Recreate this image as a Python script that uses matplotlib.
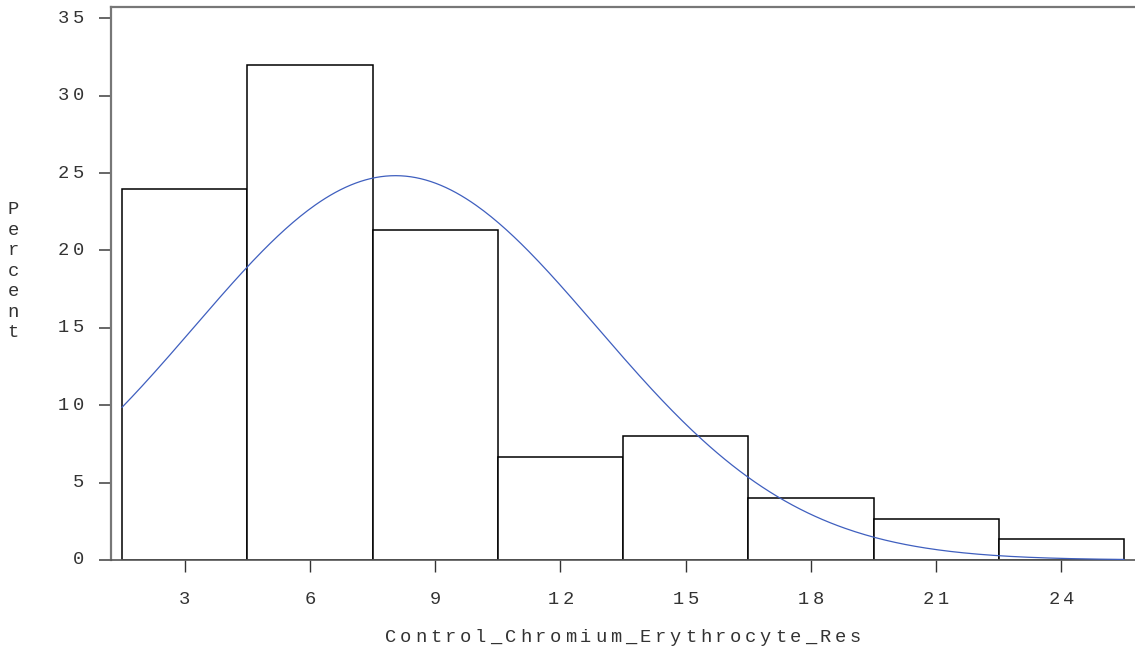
import numpy as np
import matplotlib
matplotlib.use("Agg")
import matplotlib.pyplot as plt
from matplotlib.transforms import offset_copy, blended_transform_factory

# histogram bins (midpoints) and percent of observations
midpoints = [3, 6, 9, 12, 15, 18, 21, 24]
percents = [24.0, 32.0, 21.33, 6.67, 8.0, 4.0, 2.67, 1.33]
bin_width = 3
# fitted normal curve parameters
mu = 8.05
sigma = 4.82

yticks = [0, 5, 10, 15, 20, 25, 30, 35]
xlabel = 'Control_Chromium_Erythrocyte_Res'
ylabel = 'Percent'

TXT = '#333333'
FONT = 'Liberation Mono'
FS = 13.5

fig = plt.figure(figsize=(11.35, 6.62), dpi=100)
ax = fig.add_axes([111 / 1135, 1 - 560 / 662, 1 - 111 / 1135, (560 - 6.5) / 662])


def spaced(s, x, y, trans, pitch, dx0=0, dy0=0, vertical=False):
    # draw text one char at a time to mimic the wide letter spacing
    n = len(s)
    for i, ch in enumerate(s):
        if vertical:
            dx, dy = dx0, dy0 - (i - (n - 1) / 2) * pitch
        else:
            dx, dy = dx0 + (i - (n - 1) / 2) * pitch, dy0
        tr = offset_copy(trans, fig=fig, x=dx, y=dy, units='dots')
        ax.text(x, y, ch, transform=tr, ha='center', va='center',
                fontsize=FS, family=FONT, color=TXT, clip_on=False)


ax.bar(midpoints, percents, width=bin_width, facecolor='white',
       edgecolor='black', linewidth=1.1, zorder=2)

xs = np.linspace(midpoints[0] - bin_width / 2, midpoints[-1] + bin_width / 2, 400)
curve = 100 * bin_width * np.exp(-0.5 * ((xs - mu) / sigma) ** 2) / (sigma * np.sqrt(2 * np.pi))
ax.plot(xs, curve, color='#3f5fbf', linewidth=0.9, zorder=3)

ax.set_xlim(1.5 - 11 / 41.75, 25.5 + 11 / 41.75)
ax.set_ylim(0, 35.76)
ax.set_xticks(midpoints)
ax.set_yticks(yticks)
ax.tick_params(labelleft=False, labelbottom=False)
ax.tick_params(axis='y', length=8.6, width=1.4, color='#666666')
ax.tick_params(axis='x', length=8.6, width=1.0, color='#333333')

for side in ['left', 'top']:
    ax.spines[side].set_color('#777777')
    ax.spines[side].set_linewidth(1.6)
ax.spines['bottom'].set_color('#555555')
ax.spines['bottom'].set_linewidth(1.2)
ax.spines['right'].set_visible(False)

# tick labels
ytr = blended_transform_factory(ax.transAxes, ax.transData)
for v in yticks:
    s = str(v)
    n = len(s)
    spaced(s, 0, v, ytr, 15, dx0=-33 - (n - 1) * 15 / 2)

xtr = blended_transform_factory(ax.transData, ax.transAxes)
for v in midpoints:
    spaced(str(v), v, 0, xtr, 15, dy0=-40)

# axis titles
spaced(xlabel, 0.5, 0, ax.transAxes, 15, dy0=-77)
spaced(ylabel, 0, 0.5, ax.transAxes, 20.5, dx0=-98, dy0=12, vertical=True)

fig.savefig('out.png', dpi=100)
